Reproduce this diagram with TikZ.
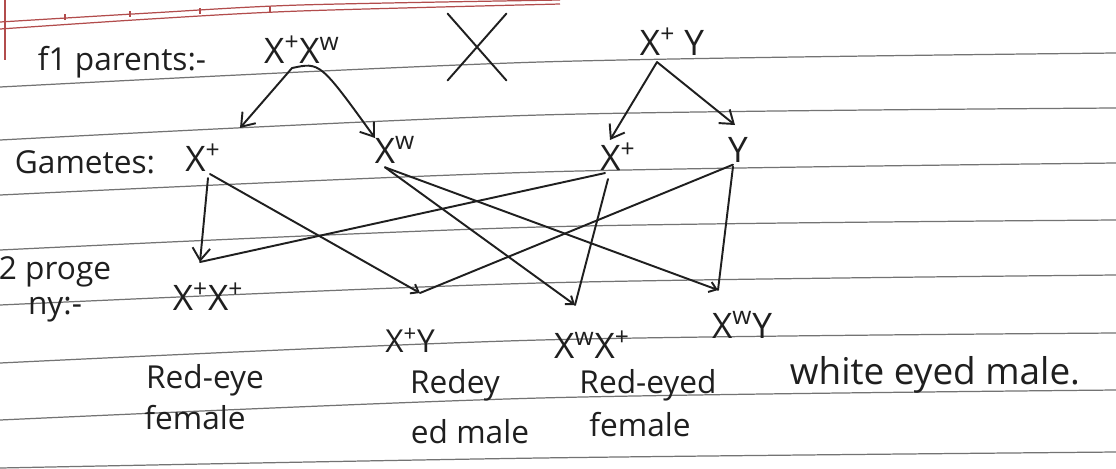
\documentclass[tikz,border=0pt]{standalone}
\usepackage{fontspec}
\setmainfont{Open Sans}
\usetikzlibrary{calc,arrows.meta}
\begin{document}
\begin{tikzpicture}[x=0.02cm,y=-0.02cm,
  ink/.style={draw=black!88,line width=1.1pt,line cap=round,line join=round},
  txt/.style={inner sep=1pt,text=black!88},
  lab/.style={txt,font=\fontsize{18}{20}\selectfont},
  gen/.style={txt,font=\fontsize{20}{22}\selectfont},
  arr/.style={ink,-{Straight Barb[length=7pt,width=10pt]}},
  tk/.style={ink,-{Straight Barb[length=4pt,width=6pt]}},
  ruled/.style={draw=black!55,line width=0.7pt},
  margin/.style={draw=red!40!gray,line width=0.7pt}]
\useasboundingbox (0,0) rectangle (1116,468);
\fill[white] (0,0) rectangle (1116,468);
% notebook ruling
\draw[margin] plot[smooth] coordinates {(0,22) (150,13) (300,5) (560,0)};
\draw[margin] plot[smooth] coordinates {(0,29) (150,19) (300,11) (560,4)};
\foreach \xx/\ya/\yb in {65/14/20,130/11/17,200/8/14,270/6/12}
  \draw[margin] (\xx,\ya) -- (\xx,\yb);
\draw[margin] (5,0) -- (5,60);
\foreach \a/\b/\c in {87/62/53,140/115/108,195/172/163,250/227/220,305/283/275,363/340/333,420/398/390,468/458/452}
  \draw[ruled] plot[smooth] coordinates {(0,\a) (540,\b) (1116,\c)};
% row 1: parents
\node[lab] (f1) at (122,62) {f1 parents:-};
\node[gen] (p1) at (302,50) {X\textsuperscript{+}X\textsuperscript{w}};
\node[inner sep=0pt,minimum width=1.16cm,minimum height=1.32cm] (cr) at (477,47) {};
\draw[ink] (cr.north west) -- (cr.south east);
\draw[ink] (cr.north east) -- (cr.south west);
\node[gen] (p2) at (672,42) {X\textsuperscript{+} Y};
% row 2: gametes
\node[lab] (gm) at (85,162) {Gametes:};
\node[gen] (g1) at (203,158) {X\textsuperscript{+}};
\node[gen] (g2) at (395,150) {X\textsuperscript{w}};
\node[gen] (g3) at (618,157) {X\textsuperscript{+}};
\node[gen] (g4) at (738,150) {Y};
% row 3: progeny
\node[lab] (pr1) at (55,272) {2 proge};
\node[lab] (pr2) at (55,310) {ny:-};
\node[gen] (o1) at (208,297) {X\textsuperscript{+}X\textsuperscript{+}};
\node[txt,font=\fontsize{18}{20}\selectfont] (o2) at (410,340) {X\textsuperscript{+}Y};
\node[gen] (o3) at (592,345) {X\textsuperscript{w}X\textsuperscript{+}};
\node[gen] (o4) at (742,325) {X\textsuperscript{w}Y};
\node[lab] (l1a) at (205,380) {Red-eye};
\node[lab] (l1b) at (195,418) {female};
\node[lab] (l2a) at (455,385) {Redey};
\node[lab] (l2b) at (470,432) {ed male};
\node[lab] (l3a) at (648,385) {Red-eyed};
\node[lab] (l3b) at (640,425) {female};
\node[txt,font=\fontsize{21}{22}\selectfont] (l4) at (935,375) {white eyed male.};
% arrow targets / meeting points
\coordinate (t1) at (240,128);
\coordinate (t2) at (375,138);
\coordinate (t3) at (610,140);
\coordinate (t4) at (735,125);
\coordinate (c1) at (200,262);
\coordinate (c2) at (420,293);
\coordinate (c3) at (575,305);
\coordinate (c4) at (718,290);
% parents to gametes
\draw[arr] ($(p1.south)+(-10,2)$) -- (t1);
\draw[arr] ($(p1.south)+(-10,2)$) .. controls (320,62) .. (t2);
\draw[arr] ($(p2.south)+(-15,4)$) -- (t3);
\draw[arr] ($(p2.south)+(-15,4)$) -- (t4);
% gametes to progeny
\draw[arr] ($(g1.south)+(5,4)$) -- (c1);
\draw[tk] ($(g1.south)+(7,0)$) -- (c2);
\draw[ink] ($(g3.south)+(-13,0)$) -- (c1);
\draw[ink] ($(g3.south)+(-10,6)$) -- (c3);
\draw[tk] ($(g2.south)+(-10,2)$) -- (c3);
\draw[tk] ($(g2.south)+(-10,2)$) -- (c4);
\draw[ink] ($(g4.south)+(-5,0)$) -- (c2);
\draw[ink] ($(g4.south)+(-5,2)$) -- (c4);
\end{tikzpicture}
\end{document}
